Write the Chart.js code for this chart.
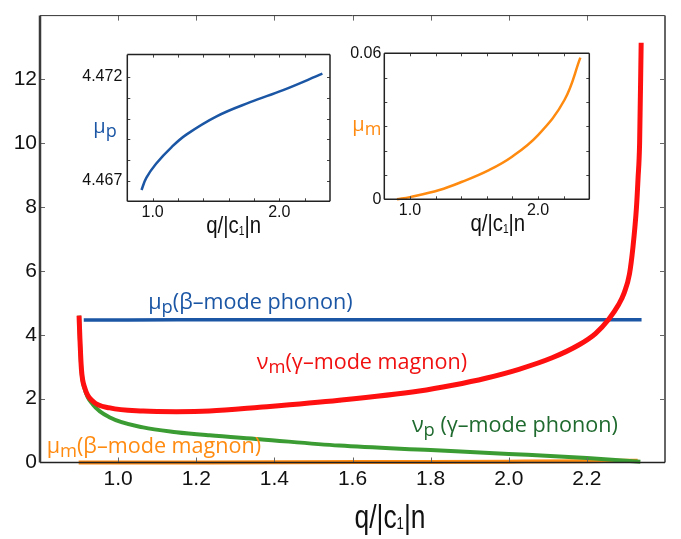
<!DOCTYPE html>
<html lang="en">
<head>
<meta charset="UTF-8">
<title>Mode frequencies vs q/|c1|n</title>
<script src="https://cdn.jsdelivr.net/npm/chart.js"></script>
<style>
  html, body { margin: 0; padding: 0; background: #fff; }
  #wrap { position: relative; width: 681px; height: 539px; }
  canvas { position: absolute; }
</style>
</head>
<body>
<div id="wrap">
  <canvas id="main" width="681" height="539" style="left:0;top:0"></canvas>
  <canvas id="insetP" width="290" height="205" style="left:60px;top:40px"></canvas>
  <canvas id="insetM" width="260" height="205" style="left:340px;top:40px"></canvas>
</div>

<script>
// nu_m (gamma-mode magnon)
const qNuM = [0.900, 0.902, 0.906, 0.915, 0.936, 0.979, 1.064, 1.149, 1.234, 1.362, 1.566, 1.771, 1.856, 1.941, 2.026, 2.111, 2.179, 2.222, 2.256, 2.281, 2.296, 2.309, 2.318, 2.327, 2.331, 2.335, 2.339];
const nuM  = [4.60, 3.94, 2.93, 2.32, 1.91, 1.71, 1.61, 1.59, 1.61, 1.73, 1.95, 2.24, 2.42, 2.64, 2.92, 3.28, 3.68, 4.04, 4.49, 4.94, 5.33, 5.90, 6.75, 8.0, 8.9, 10.0, 13.15];

// nu_p (gamma-mode phonon)
const qNuP = [0.900, 0.902, 0.906, 0.915, 0.936, 0.979, 1.064, 1.149, 1.234, 1.362, 1.566, 1.800, 2.000, 2.200, 2.337];
const nuP  = [4.60, 3.90, 2.90, 2.28, 1.81, 1.41, 1.10, 0.95, 0.85, 0.73, 0.53, 0.39, 0.27, 0.14, 0.02];

// mu_p (beta-mode phonon), also the left inset
const qMuP = [0.912, 0.95, 1.027, 1.15, 1.266, 1.505, 1.77, 2.03, 2.34];
const muP  = [4.46656, 4.46715, 4.46783, 4.46863, 4.46923, 4.47011, 4.47079, 4.47137, 4.47216];

// mu_m (beta-mode magnon), also the right inset
const qMuM = [0.899, 1.0, 1.23, 1.407, 1.617, 1.797, 2.0, 2.206, 2.33];
const muM  = [0, 0.0009, 0.0038, 0.0072, 0.0120, 0.0175, 0.0264, 0.0408, 0.0582];

// ticks
const xTicks = [1.0, 1.2, 1.4, 1.6, 1.8, 2.0, 2.2];
const yTicks = [0, 2, 4, 6, 8, 10, 12];
const insetXTicks = [1.0, 1.2, 1.4, 1.6, 1.8, 2.0, 2.2];
const insetXLabels = [1.0, 2.0];
const muPTicks = [4.467, 4.468, 4.469, 4.470, 4.471, 4.472];
const muPLabels = [4.467, 4.472];
const muMTicks = [0, 0.01, 0.02, 0.03, 0.04, 0.05, 0.06];
const muMLabels = [0, 0.06];

const BLUE = '#1b56a5', RED = '#ff1010', GREEN = '#3c9c34', ORANGE = '#ff8a10';
const TICKFONT = 'Liberation Sans, Arial, sans-serif';
const TEXTFONT = 'Open Sans, Noto Sans, sans-serif';

function pts(xs, ys) { return xs.map((x, i) => ({x: x, y: ys[i]})); }
function has(list, v) { return list.some(l => Math.abs(l - v) < 1e-9); }

// draw a label made of pieces, some of them lowered like subscripts
function drawParts(ctx, parts, px, py, st) {
  const subSize = st.size * (st.subScale || 0.85);
  const fonts = parts.map(p => (p[1] ? subSize : st.size) + 'px ' + st.family);
  let w = 0;
  parts.forEach((p, i) => { ctx.font = fonts[i]; w += ctx.measureText(p[0]).width; });
  ctx.save();
  ctx.translate(px, py);
  ctx.scale(st.sx || 1, 1);
  ctx.fillStyle = st.color;
  ctx.textAlign = 'left';
  ctx.textBaseline = 'alphabetic';
  let cx = st.align === 'center' ? -w / 2 : 0;
  parts.forEach((p, i) => {
    ctx.font = fonts[i];
    ctx.fillText(p[0], cx, p[1] ? st.size * (st.subDrop || 0.18) : 0);
    cx += ctx.measureText(p[0]).width;
  });
  ctx.restore();
}

// box frame, inward tick marks and free labels
const deco = {
  id: 'deco',
  afterDraw(chart, args, o) {
    const {ctx, chartArea: a} = chart;
    const x = chart.scales.x, y = chart.scales.y;
    ctx.save();
    ctx.strokeStyle = o.tickColor;
    ctx.lineWidth = 1;
    ctx.beginPath();
    o.xt.forEach(v => {
      const px = Math.round(x.getPixelForValue(v)) + 0.5;
      ctx.moveTo(px, a.bottom); ctx.lineTo(px, a.bottom - o.tl);
      ctx.moveTo(px, a.top); ctx.lineTo(px, a.top + o.tl);
    });
    o.yt.forEach(v => {
      const py = Math.round(y.getPixelForValue(v)) + 0.5;
      ctx.moveTo(a.left, py); ctx.lineTo(a.left + o.tl, py);
      ctx.moveTo(a.right, py); ctx.lineTo(a.right - o.tl, py);
    });
    ctx.stroke();
    const f = o.frame;
    const side = (s, x1, y1, x2, y2) => {
      ctx.strokeStyle = s[1]; ctx.lineWidth = s[0];
      ctx.beginPath(); ctx.moveTo(x1, y1); ctx.lineTo(x2, y2); ctx.stroke();
    };
    side(f.top, a.left, a.top, a.right, a.top);
    side(f.right, a.right, a.top, a.right, a.bottom);
    side(f.bottom, a.left, a.bottom, a.right, a.bottom);
    side(f.left, a.left, a.top, a.left, a.bottom);
    (o.texts || []).forEach(t => {
      const p = t.at(a, x, y);
      drawParts(ctx, t.parts, p[0], p[1], t);
    });
    ctx.restore();
  }
};

function lineSet(xs, ys, color, width, smooth) {
  const s = {
    data: pts(xs, ys), borderColor: color, borderWidth: width,
    pointRadius: 0, fill: false, clip: 8
  };
  if (smooth === 'monotone') s.cubicInterpolationMode = 'monotone';
  else s.tension = smooth;
  return s;
}

function tickOpts(size, pad, labels, digits) {
  return {
    autoSkip: false, maxRotation: 0, padding: pad, color: '#111',
    font: {family: TICKFONT, size: size},
    callback: v => (labels && !has(labels, v)) ? '' : (v === 0 ? '0' : v.toFixed(digits))
  };
}

// main chart
new Chart(document.getElementById('main'), {
  type: 'line',
  data: {
    datasets: [
      lineSet(qNuM, nuM, RED, 5, 'monotone'),
      lineSet(qNuP, nuP, GREEN, 4, 'monotone'),
      lineSet(qMuP, muP, BLUE, 3.5, 'monotone'),
      lineSet(qMuM, muM, ORANGE, 4, 'monotone')
    ]
  },
  options: {
    responsive: false, animation: false,
    layout: {padding: {left: 0, right: 16, top: 2, bottom: 0}},
    plugins: {
      legend: {display: false}, tooltip: {enabled: false},
      deco: {
        xt: xTicks, yt: yTicks.slice(1), tl: 5, tickColor: '#666',
        frame: {top: [1, '#333'], right: [2, '#666'], bottom: [1.5, '#222'], left: [2.5, '#3a3a3a']},
        texts: [
          {parts: [['μ', 0], ['p', 1], ['(β–mode phonon)', 0]], at: (a, x, y) => [x.getPixelForValue(1.077), y.getPixelForValue(4.82)], size: 21.6, family: TEXTFONT, color: BLUE},
          {parts: [['ν', 0], ['m', 1], ['(γ–mode magnon)', 0]], at: (a, x, y) => [x.getPixelForValue(1.355), y.getPixelForValue(2.93)], size: 21.6, family: TEXTFONT, color: '#f01010'},
          {parts: [['ν', 0], ['p', 1], [' (γ–mode phonon)', 0]], at: (a, x, y) => [x.getPixelForValue(1.752), y.getPixelForValue(0.94)], size: 21.6, family: TEXTFONT, color: '#1f6a2e'},
          {parts: [['μ', 0], ['m', 1], ['(β–mode magnon)', 0]], at: (a, x, y) => [x.getPixelForValue(0.817), y.getPixelForValue(0.29)], size: 21.6, family: TEXTFONT, color: ORANGE},
          {parts: [['q/|c', 0], ['1', 1], ['|n', 0]], at: (a, x, y) => [x.getPixelForValue(1.696), a.bottom + 65], size: 33, family: TICKFONT, color: '#111', align: 'center', sx: 0.8, subScale: 0.5, subDrop: 0.05}
        ]
      }
    },
    scales: {
      x: {
        type: 'linear', min: 0.8, max: 2.4,
        afterBuildTicks: s => { s.ticks = xTicks.map(v => ({value: v})); },
        afterFit: s => { s.height = 76.5; },
        grid: {display: false, drawTicks: false}, border: {display: false},
        ticks: tickOpts(21, 4, null, 1)
      },
      y: {
        min: 0, max: 14,
        afterBuildTicks: s => { s.ticks = yTicks.map(v => ({value: v})); },
        afterFit: s => { s.width = 40; },
        grid: {display: false, drawTicks: false}, border: {display: false},
        ticks: tickOpts(21, 3, null, 0)
      }
    }
  },
  plugins: [deco]
});

function insetChart(id, xs, ys, color, yMin, yMax, yt, yl, yDigits, pad, yParts, titleDx) {
  return new Chart(document.getElementById(id), {
    type: 'line',
    data: {datasets: [lineSet(xs, ys, color, 2.5, 0.4)]},
    options: {
      responsive: false, animation: false,
      layout: {padding: pad.layout},
      plugins: {
        legend: {display: false}, tooltip: {enabled: false},
        deco: {
          xt: insetXTicks, yt: yt, tl: 3, tickColor: '#444',
          frame: {top: [1.5, '#222'], right: [1.5, '#222'], bottom: [1.5, '#222'], left: [1.5, '#222']},
          texts: [
            {parts: yParts, at: a => [a.left - pad.yTitle, (a.top + a.bottom) / 2 + 5], size: 20, family: TEXTFONT, color: color, subScale: 0.9, subDrop: 0.2},
            {parts: [['q/|c', 0], ['1', 1], ['|n', 0]], at: a => [(a.left + a.right) / 2 + titleDx, a.bottom + 32], size: 24, family: TICKFONT, color: '#111', align: 'center', sx: 0.85, subScale: 0.5, subDrop: 0.05}
          ]
        }
      },
      scales: {
        x: {
          type: 'linear', min: 0.8, max: 2.4,
          afterBuildTicks: s => { s.ticks = insetXTicks.map(v => ({value: v})); },
          afterFit: s => { s.height = pad.xh; },
          grid: {display: false, drawTicks: false}, border: {display: false},
          ticks: tickOpts(16, 2, insetXLabels, 1)
        },
        y: {
          min: yMin, max: yMax,
          afterBuildTicks: s => { s.ticks = yt.map(v => ({value: v})); },
          afterFit: s => { s.width = pad.yw; },
          grid: {display: false, drawTicks: false}, border: {display: false},
          ticks: tickOpts(16, pad.yPad, yl, yDigits)
        }
      }
    },
    plugins: [deco]
  });
}

insetChart('insetP', qMuP, muP, BLUE, 4.46602, 4.47308, muPTicks, muPLabels, 3,
  {layout: {left: 0, right: 20, top: 13.3, bottom: 0}, xh: 43.7, yw: 67.3, yPad: 5, yTitle: 34},
  [['μ', 0], ['p', 1]], 5);

insetChart('insetM', qMuM, muM, ORANGE, 0, 0.06, muMTicks, muMLabels, 2,
  {layout: {left: 0, right: 10.7, top: 13.3, bottom: 0}, xh: 45.7, yw: 44.3, yPad: 3, yTitle: 32},
  [['μ', 0], ['m', 1]], 11);
</script>
</body>
</html>
